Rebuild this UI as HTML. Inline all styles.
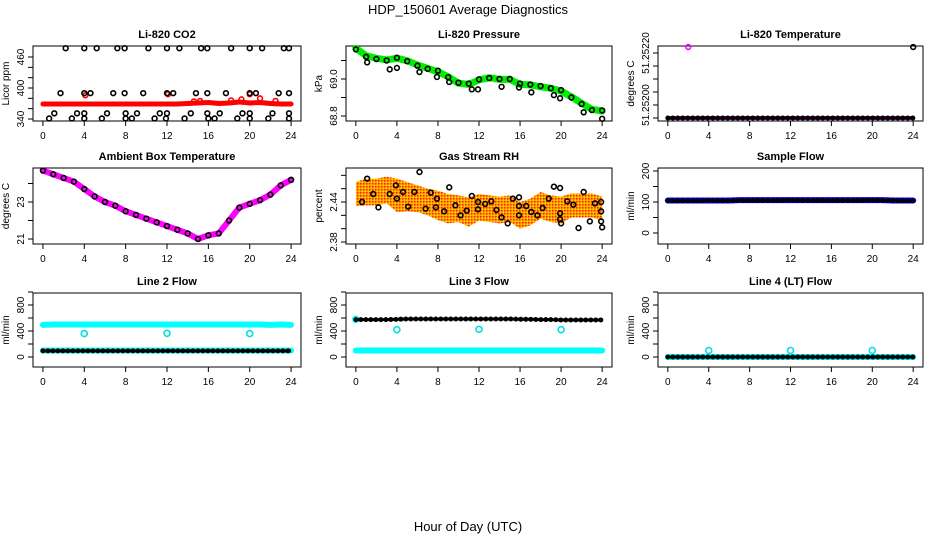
<!DOCTYPE html>
<html><head><meta charset="utf-8"><style>
html,body{margin:0;padding:0;background:#fff}
svg{display:block;font-family:"Liberation Sans",Arial,sans-serif}
</style></head><body>
<svg id="chart" width="936" height="540" viewBox="0 0 936 540" xmlns="http://www.w3.org/2000/svg">
<defs>
<pattern id="chk" width="3" height="3" patternUnits="userSpaceOnUse"><rect width="3" height="3" fill="#ffa500"/><rect width="1.5" height="1.5" fill="#ff2000"/><rect x="1.5" y="1.5" width="1.5" height="1.5" fill="#ffd000"/></pattern>
</defs>
<text x="468" y="14" font-size="13" text-anchor="middle">HDP_150601  Average Diagnostics</text>
<text x="468" y="531" font-size="13" text-anchor="middle">Hour of Day (UTC)</text>
</svg>
<script>
// ---- data ----
const hours = [0,1,2,3,4,5,6,7,8,9,10,11,12,13,14,15,16,17,18,19,20,21,22,23,24];
const xTicks = [0,4,8,12,16,20,24];
// CO2
const co2Red = [369,369,369,369,369,369,369,369,369,369,369,369,369,369,370,371,372,370,371,373,371,372,370,369,369];
const co2RedOutH = [4.1,12.1,14.6,15.2,18.2,19.2,20.0,21.0,22.5];
const co2RedOutV = [386,388,374,375,376,378,388,380,375];
const co2BlackH = [2.2,4.0,5.2,7.2,7.9,10.2,12.0,13.2,15.3,15.9,18.2,20.0,21.2,23.3,23.8,
 1.7,4.0,4.6,6.8,7.9,9.7,12.0,12.6,14.8,15.9,17.7,20.0,20.6,22.8,23.8,
 1.1,3.3,4.0,6.2,8.0,9.1,11.3,12.0,14.3,15.9,17.1,19.3,20.0,22.2,23.8,
 0.6,2.8,4.0,5.7,8.0,8.6,10.8,11.9,13.7,16.0,16.6,18.8,20.0,21.8,23.8];
const co2BlackV = [477,477,477,477,477,477,477,477,477,477,477,477,477,477,477,
 390,390,390,390,390,390,390,390,390,390,390,390,390,390,390,
 351,351,351,351,351,351,351,351,351,351,351,351,351,351,351,
 341,341,341,341,341,341,341,341,341,341,341,341,341,341,341];
// Pressure
const presGreen = [69.166,69.126,69.112,69.103,69.112,69.099,69.076,69.058,69.039,69.012,68.977,68.971,68.995,69.007,68.998,68.998,68.971,68.968,68.958,68.950,68.935,68.904,68.869,68.836,68.827];
const presBlack = [69.160,69.120,69.108,69.100,69.115,69.096,69.072,69.055,69.045,69.010,68.980,68.975,68.998,69.005,69.000,69.000,68.975,68.970,68.962,68.950,68.940,68.900,68.865,68.832,68.830];
const presOutH = [1.1,3.3,4.0,6.2,7.9,9.1,11.3,11.9,14.2,15.9,17.1,19.3,19.9,22.2,24.0];
const presOutV = [69.09,69.052,69.06,69.038,69.011,68.984,68.944,68.944,68.958,68.954,68.928,68.913,68.896,68.82,68.785];
// Li-820 temperature
const tempPink = [51.25195,51.25195,51.25195,51.25195,51.25195,51.25195,51.25195,51.25195,51.25195,51.25195,51.25195,51.25195,51.25195,51.25195,51.25195,51.25195,51.25195,51.25195,51.25195,51.25195,51.25195,51.25195,51.25195,51.25195,51.25195];
const tempOutH = [2.0,24.0];
const tempOutV = [51.252223,51.252223];
// Ambient
const ambVals = [24.7,24.5,24.3,24.1,23.7,23.3,23.0,22.8,22.5,22.3,22.1,21.9,21.7,21.5,21.3,21.0,21.2,21.3,22.0,22.7,22.9,23.1,23.4,23.9,24.2];
// RH
const rhMean = [2.452,2.455,2.455,2.458,2.450,2.448,2.445,2.440,2.435,2.430,2.430,2.425,2.432,2.430,2.428,2.430,2.420,2.425,2.435,2.430,2.428,2.435,2.435,2.435,2.430];
const rhSpread = [0.018,0.02,0.02,0.02,0.025,0.022,0.02,0.02,0.022,0.022,0.02,0.022,0.02,0.02,0.02,0.02,0.02,0.02,0.02,0.02,0.02,0.018,0.018,0.018,0.018];
const rhBlackH = [0.6,1.1,1.7,2.2,3.3,3.9,4.0,4.6,5.1,5.7,6.2,6.8,7.3,7.9,7.8,8.6,9.1,9.7,10.2,10.8,11.3,11.9,11.9,12.6,13.2,13.7,14.2,14.8,15.3,15.9,15.9,15.9,16.6,17.1,17.7,18.2,18.8,19.3,19.9,19.9,19.9,20.0,20.6,21.2,21.7,22.2,22.8,23.3,23.9,23.9,23.9,24.0];
const rhBlackV = [2.44,2.475,2.452,2.432,2.452,2.465,2.445,2.455,2.433,2.455,2.485,2.43,2.454,2.445,2.432,2.426,2.462,2.435,2.42,2.427,2.449,2.44,2.429,2.437,2.441,2.428,2.417,2.408,2.445,2.447,2.434,2.42,2.434,2.425,2.42,2.431,2.445,2.463,2.461,2.423,2.414,2.408,2.441,2.436,2.401,2.455,2.411,2.438,2.44,2.426,2.411,2.402];
// Sample flow
const flowBlue = [105,105,105,105,105,105,105,106,106,106,106,106,106,106,106,106,106,106,106,106,106,106,105,105,105];
const flowBlack = [104,104,104,104,105,104,104,105,105,105,105,105,106,105,105,105,105,105,105,105,106,105,105,104,104];
// Line flows
const l2High = [495,500,500,500,500,500,500,500,500,500,500,500,500,500,500,500,500,500,500,500,500,500,495,500,495];
const l2Low = [100,100,100,100,100,100,100,100,100,100,100,100,100,100,100,100,100,100,100,100,100,100,100,100,100];
const l2Black = [95,95,95,95,95,95,95,95,95,95,95,95,95,95,95,95,95,95,95,95,95,95,95,95,95];
const l3Black = [575,575,575,575,580,585,585,585,585,585,585,585,585,585,585,585,580,580,575,575,570,570,570,570,570];
const l3Low = [100,100,100,100,100,100,100,100,100,100,100,100,100,100,100,100,100,100,100,100,100,100,100,100,100];
const l4Cyan = [0,0,0,0,0,0,0,0,0,0,0,0,0,0,0,0,0,0,0,0,0,0,0,0,0];
const l4Black = [0,0,0,0,0,0,0,0,0,0,0,0,0,0,0,0,0,0,0,0,0,0,0,0,0];
const calHours = [4,12,20];
const l2Cal = [360,365,360];
const l3Cal = [420,425,420];
const l4Cal = [100,100,100];

const NS = 'http://www.w3.org/2000/svg';
const svg = document.getElementById('chart');
function mk(tag, attrs, parent){
  const e = document.createElementNS(NS, tag);
  for (const k in attrs) e.setAttribute(k, attrs[k]);
  (parent||svg).appendChild(e);
  return e;
}
function P(x0,x1,y0,y1,va,ya,vb,yb){return {x0,x1,y0,y1,va,ya,vb,yb};}
function X(p,h){return p.x0 + (h+0.96)/25.92*(p.x1-p.x0);}
function Y(p,v){return p.ya + (v-p.va)*(p.yb-p.ya)/(p.vb-p.va);}

function axes(p, title, ylab, yTicks, yLabels, yLabelText, key){
  const g = mk('g', {});
  
  
  const t = mk('text', {x:(p.x0+p.x1)/2, y:p.y0-8, 'font-size':11, 'font-weight':'bold', 'text-anchor':'middle'}, g);
  t.textContent = title;
  
  
  const yl = mk('text', {x:0, y:0, 'font-size':10, 'text-anchor':'middle', transform:'translate('+(p.x0-24)+','+((p.y0+p.y1)/2)+') rotate(-90)'}, g);
  yl.textContent = ylab;
  
  
  yTicks.forEach(v=>{
    const y = Y(p,v);
    const tk = mk('line', {x1:p.x0, x2:p.x0-5, y1:y, y2:y, stroke:'#000'}, g);
    
    
  });
  yLabels.forEach((v,i)=>{
    const y = Y(p,v);
    const tl = mk('text', {x:0, y:0, 'font-size':10, 'text-anchor':'middle', transform:'translate('+(p.x0-9)+','+y+') rotate(-90)'}, g);
    tl.textContent = yLabelText[i];
    
    
  });
  xTicks.forEach(h=>{
    const x = X(p,h);
    const tk = mk('line', {x1:x, x2:x, y1:p.y1, y2:p.y1+5, stroke:'#000'}, g);
    
    
    const tl = mk('text', {x:x, y:p.y1+18, 'font-size':10, 'text-anchor':'middle'}, g);
    tl.textContent = String(h);
    
    
  });
  const al = mk('line', {x1:X(p,0), x2:X(p,24), y1:p.y1, y2:p.y1, stroke:'#000'}, g);
  
  
  const bx = mk('rect', {x:p.x0, y:p.y0, width:p.x1-p.x0, height:p.y1-p.y0, fill:'none', stroke:'#000'}, g);
  
  
  return g;
}
function band(p, g, vals, color, w, name){
  const pts = hours.map((h,i)=>X(p,h)+','+Y(p,vals[i])).join(' ');
  const l = mk('polyline', {points:pts, fill:'none', stroke:color, 'stroke-width':w, 'stroke-linejoin':'round', 'stroke-linecap':'round'}, g);
  
  
  return l;
}
function ringBand(p, g, vals, name){
  const pts = hours.map((h,i)=>X(p,h)+','+Y(p,vals[i])).join(' ');
  const l = mk('polyline', {points:pts, fill:'none', stroke:'#000', 'stroke-width':5, 'stroke-dasharray':'0 5', 'stroke-linecap':'round'}, g);
  
  
  const l2 = mk('polyline', {points:pts, fill:'none', stroke:'#000', 'stroke-width':3}, g);
  
  
}
function circ(p, g, h, v, color, name, r){
  const c = mk('circle', {cx:X(p,h), cy:Y(p,v), r:r||2.4, fill:'none', stroke:color, 'stroke-width':1.6}, g);
  
  
}

const p1 = P(33,301,46,121, 340,119,460,57);
const p2 = P(346,612,46,121, 69.0,79,68.8,116);
const p3 = P(658,923,46,121, 51.252,105,51.2522,53);
const p4 = P(33,301,168,244, 23,202,21,239);
const p5 = P(346,612,168,244, 2.44,202,2.38,242);
const p6 = P(658,923,168,244, 0,233,100,202);
const p7 = P(33,301,293,367, 0,357,400,331);
const p8 = P(346,612,293,367, 0,357,400,331);
const p9 = P(658,923,293,367, 0,357,400,331);

let g;
g = axes(p1,'Li-820 CO2','Licor ppm',[340,360,380,400,420,440,460],[340,400,460],['340','400','460'],'co2');
band(p1,g,co2Red,'#ff0000',5,'co2-red-series');
co2RedOutH.forEach((h,i)=>circ(p1,g,h,co2RedOutV[i],'#ff0000','co2-red-point'));
co2BlackH.forEach((h,i)=>circ(p1,g,h,co2BlackV[i],'#000','co2-black-point'));

g = axes(p2,'Li-820 Pressure','kPa',[68.8,68.9,69.0,69.1],[68.8,69.0],['68.8','69.0'],'pressure');
band(p2,g,presGreen,'#00ee00',7,'pressure-green-series');
hours.forEach((h,i)=>circ(p2,g,h,presBlack[i],'#000','pressure-black-point'));
presOutH.forEach((h,i)=>circ(p2,g,h,presOutV[i],'#000','pressure-black-outlier'));

g = axes(p3,'Li-820 Temperature','degrees C',[51.25195,51.252,51.25205,51.2521,51.25215,51.2522],[51.252,51.2522],['51.25200','51.25220'],'li820-temp');
band(p3,g,tempPink,'#ff00ff',4,'li820-temp-magenta-series');
ringBand(p3,g,tempPink,'li820-temp-black-series');
circ(p3,g,tempOutH[0],tempOutV[0],'#ff00ff','li820-temp-magenta-outlier');
circ(p3,g,tempOutH[1],tempOutV[1],'#000','li820-temp-black-outlier');

g = axes(p4,'Ambient Box Temperature','degrees C',[21,22,23,24],[21,23],['21','23'],'ambient');
band(p4,g,ambVals,'#ff00ff',6,'ambient-magenta-series');
hours.forEach((h,i)=>circ(p4,g,h,ambVals[i],'#000','ambient-black-point'));

g = axes(p5,'Gas Stream RH','percent',[2.38,2.40,2.42,2.44,2.46,2.48],[2.38,2.44],['2.38','2.44'],'rh');
{
  const up = hours.map((h,i)=>X(p5,h)+','+Y(p5,rhMean[i]+rhSpread[i]));
  const dn = hours.map((h,i)=>X(p5,h)+','+Y(p5,rhMean[i]-rhSpread[i])).reverse();
  const poly = mk('polygon',{points:up.concat(dn).join(' '), fill:'url(#chk)'}, g);
  
  
}
rhBlackH.forEach((h,i)=>circ(p5,g,h,rhBlackV[i],'#000','rh-black-point'));

g = axes(p6,'Sample Flow','ml/min',[0,50,100,150,200],[0,100,200],['0','100','200'],'sample-flow');
band(p6,g,flowBlue,'#0000ff',6,'sample-flow-blue-series');
ringBand(p6,g,flowBlack,'sample-flow-black-series');

g = axes(p7,'Line 2 Flow','ml/min',[0,200,400,600,800,1000],[0,400,800],['0','400','800'],'line2');
band(p7,g,l2High,'#00ffff',6,'line2-cyan-high-series');
band(p7,g,l2Low,'#00ffff',6,'line2-cyan-low-series');
ringBand(p7,g,l2Black,'line2-black-series');
calHours.forEach((h,i)=>circ(p7,g,h,l2Cal[i],'#00e0e0','line2-cyan-point',3));

g = axes(p8,'Line 3 Flow','ml/min',[0,200,400,600,800,1000],[0,400,800],['0','400','800'],'line3');
band(p8,g,l3Low,'#00ffff',6,'line3-cyan-low-series');
circ(p8,g,0,580,'#00ffff','line3-cyan-start-point',3);
ringBand(p8,g,l3Black,'line3-black-series');
calHours.forEach((h,i)=>circ(p8,g,h,l3Cal[i],'#00e0e0','line3-cyan-point',3));

g = axes(p9,'Line 4 (LT) Flow','ml/min',[0,200,400,600,800,1000],[0,400,800],['0','400','800'],'line4');
band(p9,g,l4Cyan,'#00ffff',6,'line4-cyan-series');
ringBand(p9,g,l4Black,'line4-black-series');
calHours.forEach((h,i)=>circ(p9,g,h,l4Cal[i],'#00e0e0','line4-cyan-point',3));
</script>
</body></html>
